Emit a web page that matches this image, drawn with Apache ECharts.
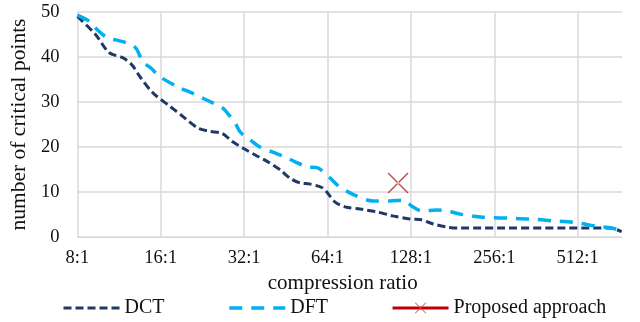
<!DOCTYPE html>
<html><head><meta charset="utf-8">
<script src="https://cdn.jsdelivr.net/npm/echarts@6/dist/echarts.min.js"></script>
<style>html,body{margin:0;padding:0;background:#fff}#c{width:640px;height:322px}</style>
</head><body><div id="c"></div>
<script>
// compression ratio (x:1) and number of critical points
const dctRatio = [8, 9.3, 10.4, 11.7, 12.6, 13.5, 15, 17.3, 19.3, 21.8, 24, 26.7, 29, 32, 35.6, 39, 43, 47, 51, 55, 61, 64, 68, 74, 84, 96, 110, 127, 138, 154, 173, 188, 668, 738];
const dctValue = [49, 45, 41, 39.8, 38.2, 35.5, 32, 29, 26.7, 24.2, 23.5, 23, 21.2, 19.6, 18, 16.7, 15, 13, 12, 11.8, 11, 9.8, 7.8, 6.7, 6.2, 5.6, 4.7, 4, 3.9, 2.9, 2.2, 2, 2, 1.2];
const dftRatio = [8, 8.9, 9.45, 10.3, 11, 12.1, 13, 13.8, 14.7, 15.9, 18.8, 20.4, 22.2, 23.5, 26.7, 27.8, 29.7, 31, 33.6, 36.5, 40.4, 45, 48.9, 54, 58.7, 65.4, 69.3, 77.1, 93.4, 107.5, 119.8, 130, 140, 159, 174, 192, 233, 284, 344, 416, 491, 599, 679, 738];
const dftValue = [49.3, 47.8, 46, 44.2, 43.8, 43.1, 42, 38.9, 37.6, 35.6, 33.1, 32.2, 31.1, 30.4, 28.7, 27.6, 25.3, 23.3, 21.6, 20, 18.9, 17.8, 16.7, 15.6, 15.4, 13.1, 11.6, 9.8, 8, 8, 8.2, 6.7, 5.8, 6, 5.8, 5.1, 4.4, 4.2, 4, 3.6, 3.3, 2.4, 2, 1.3];
const proposedRatio = [115];
const proposedValue = [12];
const xTicks = [8, 16, 32, 64, 128, 256, 512];
const seriesNames = ['DCT', 'DFT', 'Proposed approach'];

const zip = (a, b) => a.map((v, i) => [v, b[i]]);
const FONT = 'Liberation Serif';
const chart = echarts.init(document.getElementById('c'), null, {renderer: 'canvas'});
chart.setOption({
  animation: false,
  backgroundColor: '#fff',
  grid: {left: 77, right: 18, top: 12, bottom: 85},
  legend: {
    data: [
      {name: seriesNames[0], itemStyle: {opacity: 0}},
      {name: seriesNames[1], itemStyle: {opacity: 0}},
      {name: seriesNames[2]}
    ],
    left: 57, top: 293,
    itemWidth: 56, itemHeight: 14, itemGap: 63,
    lineStyle: {width: 'inherit'},
    textStyle: {fontFamily: FONT, fontSize: 20, color: '#111', padding: [0, 0, 0, 0]}
  },
  xAxis: {
    type: 'log', logBase: 2, min: 8, max: 740,
    name: 'compression ratio', nameLocation: 'middle', nameGap: 35,
    nameTextStyle: {fontFamily: FONT, fontSize: 21, color: '#111', padding: [0, 14, 0, 0]},
    axisLine: {show: true, lineStyle: {color: '#d9d9d9', width: 1}},
    axisTick: {show: false},
    axisLabel: {
      fontFamily: FONT, fontSize: 18.5, color: '#111', margin: 12, showMaxLabel: false,
      formatter: v => { const r = Math.round(v); return xTicks.indexOf(r) >= 0 ? r + ':1' : ''; }
    },
    splitLine: {show: true, showMaxLine: false, lineStyle: {color: '#d9d9d9', width: 1.5}}
  },
  yAxis: {
    type: 'value', min: 0, max: 50, interval: 10,
    name: 'number of critical points', nameLocation: 'middle', nameGap: 43,
    nameTextStyle: {fontFamily: FONT, fontSize: 21.5, color: '#111'},
    axisLine: {show: false}, axisTick: {show: false},
    axisLabel: {fontFamily: FONT, fontSize: 18.5, color: '#111', margin: 18},
    splitLine: {show: true, lineStyle: {color: '#d9d9d9', width: 1.5}}
  },
  series: [
    {name: seriesNames[0], type: 'line', data: zip(dctRatio, dctValue), smooth: 0.3,
     showSymbol: false, symbol: 'none', color: '#203864',
     lineStyle: {color: '#203864', width: 3, type: [8, 4]}},
    {name: seriesNames[1], type: 'line', data: zip(dftRatio, dftValue), smooth: 0.3,
     showSymbol: false, symbol: 'none', color: '#00B0F0',
     lineStyle: {color: '#00B0F0', width: 3.5, type: [13, 9]}},
    {name: seriesNames[2], type: 'line', data: zip(proposedRatio, proposedValue),
     symbol: 'path://M0,0.5L0.5,0L10,9.5L9.5,10ZM10,0.5L9.5,0L0,9.5L0.5,10Z', symbolSize: 21,
     color: '#C00000',
     itemStyle: {color: '#C0504D'},
     lineStyle: {color: '#C00000', width: 3}}
  ]
});
</script></body></html>
